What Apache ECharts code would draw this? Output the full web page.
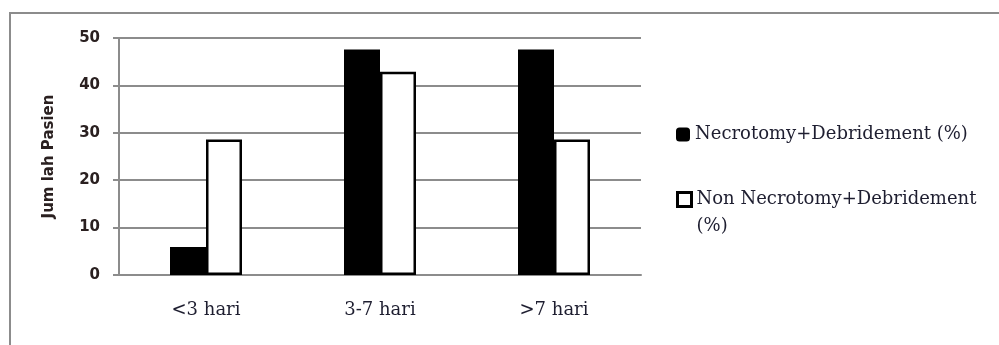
<!DOCTYPE html>
<html>
<head>
<meta charset="utf-8">
<script src="https://cdn.jsdelivr.net/npm/echarts@6/dist/echarts.min.js"></script>
<style>
  html, body { margin: 0; padding: 0; background: #fff; }
  #chart { width: 999px; height: 345px; }
</style>
</head>
<body>
<div id="chart"></div>
<script>
// data
var categories = ['<3 hari', '3-7 hari', '>7 hari'];
var necrotomy = [5.9, 47.6, 47.6];
var nonNecrotomy = [28.6, 42.9, 28.6];
var yTicks = [0, 10, 20, 30, 40, 50];

var seriesNames = ['Necrotomy+Debridement (%)', 'Non Necrotomy+Debridement (%)'];

var myChart = echarts.init(document.getElementById('chart'));
var gray = '#8c8c8c';
var serif = '"DejaVu Serif", "Liberation Serif", serif';
var sans = '"DejaVu Sans", Verdana, sans-serif';
var textColor = '#1e1e30';

// legend text style, shared by both legends
var legendText = {
	fontFamily : serif,
	fontSize : 18,
	color : textColor,
	lineHeight : 27,
	width : 290,
	overflow : 'break'
};

var option = {
	animation : false,
	graphic : [ {
		type : 'rect',
		shape : { x : 10, y : 13, width : 1000, height : 400 },
		style : { fill : 'none', stroke : gray, lineWidth : 2 },
		silent : true
	} ],
	grid : {
		left : 119,
		right : 358,
		top : 38,
		bottom : 70
	},
	legend : [ {
		orient : 'vertical',
		left : 676,
		top : 121,
		padding : 0,
		itemWidth : 14,
		itemHeight : 14,
		data : [ seriesNames[0] ],
		textStyle : legendText
	}, {
		orient : 'vertical',
		left : 676,
		top : 186,
		padding : 0,
		itemWidth : 14,
		itemHeight : 41,
		// square in the upper part of a taller box, so it lines up with the first text line
		data : [ {
			name : seriesNames[1],
			icon : 'path://M0,0h14v14h-14z M0,41',
			itemStyle : { color : '#fff', borderColor : '#000', borderWidth : 3 }
		} ],
		textStyle : legendText
	} ],
	xAxis : [ {
		type : 'category',
		data : categories,
		axisLine : { lineStyle : { color : gray, width : 2 } },
		axisTick : { show : false },
		axisLabel : {
			margin : 26,
			fontFamily : serif,
			fontSize : 18,
			color : textColor
		}
	} ],
	yAxis : [ {
		type : 'value',
		min : yTicks[0],
		max : yTicks[yTicks.length - 1],
		interval : 10,
		name : 'Jum lah Pasien',
		nameLocation : 'middle',
		nameRotate : 90,
		nameGap : 62,
		nameTextStyle : {
			fontFamily : sans,
			fontWeight : 'bold',
			fontSize : 15,
			color : '#2a2020'
		},
		axisLine : { show : true, lineStyle : { color : gray, width : 2 } },
		axisTick : { show : true, length : 6, lineStyle : { color : gray, width : 2 } },
		splitLine : { lineStyle : { color : gray, width : 2 } },
		axisLabel : {
			margin : 19,
			fontFamily : sans,
			fontWeight : 'bold',
			fontSize : 15,
			color : '#2a2020'
		}
	} ],
	series : [ {
		name : seriesNames[0],
		type : 'bar',
		barWidth : 36,
		barGap : '0%',
		data : necrotomy,
		itemStyle : { color : '#000' }
	}, {
		name : seriesNames[1],
		type : 'bar',
		barWidth : 36,
		data : nonNecrotomy,
		itemStyle : { color : '#fff', borderColor : '#000', borderWidth : 2.5 }
	} ]
};
myChart.setOption(option);
</script>
</body>
</html>
